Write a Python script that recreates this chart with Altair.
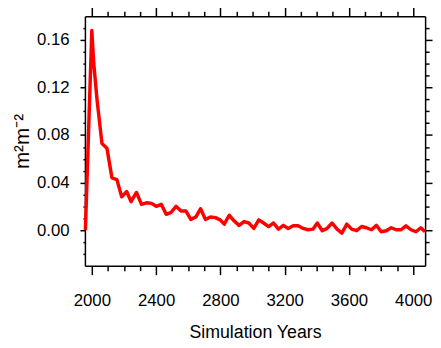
import altair as alt
import pandas as pd

# ---- data ----
years = [1960, 2000, 2012, 2033, 2063, 2094, 2125, 2156, 2186, 2217,
         2244, 2278, 2309, 2340, 2371, 2401, 2432, 2463, 2494, 2524,
         2555, 2586, 2616, 2647, 2677, 2707, 2738, 2769, 2799, 2824,
         2855, 2885, 2916, 2947, 2977, 3008, 3039, 3069, 3100, 3131,
         3161, 3192, 3222, 3253, 3284, 3315, 3345, 3376, 3403, 3434,
         3464, 3495, 3526, 3556, 3587, 3617, 3648, 3679, 3709, 3740,
         3771, 3801, 3832, 3863, 3894, 3924, 3955, 3986, 4017, 4047,
         4074]
values = [0.0, 0.168, 0.140, 0.109, 0.073, 0.069, 0.044, 0.0425, 0.028, 0.0325,
          0.024, 0.0317, 0.0217, 0.023, 0.0225, 0.020, 0.0217, 0.0133, 0.015, 0.020,
          0.016, 0.016, 0.009, 0.011, 0.018, 0.009, 0.011, 0.0105, 0.0086, 0.005,
          0.0125, 0.0078, 0.004, 0.0072, 0.006, 0.0014, 0.0086, 0.006, 0.003, 0.006,
          0.0008, 0.004, 0.0014, 0.0036, 0.0036, 0.0014, 0.0003, 0.0008, 0.006, -0.0005,
          0.0014, 0.006, 0.0008, -0.0025, 0.005, 0.0008, -0.0005, 0.003, 0.002, 0.0003,
          0.004, -0.0014, -0.0005, 0.002, 0.0003, 0.0003, 0.0036, 0.0003, -0.0014, 0.002,
          -0.0014]

x_ticks = [2000, 2100, 2200, 2300, 2400, 2500, 2600, 2700, 2800, 2900, 3000,
           3100, 3200, 3300, 3400, 3500, 3600, 3700, 3800, 3900, 4000]
y_ticks = [-0.02, -0.01, 0.0, 0.01, 0.02, 0.03, 0.04, 0.05, 0.06, 0.07, 0.08,
           0.09, 0.10, 0.11, 0.12, 0.13, 0.14, 0.15, 0.16, 0.17]
x_domain = [1957, 4074]
y_domain = [-0.03, 0.18]

x_title = "Simulation Years"
y_title = "m²m⁻²"

FONT = "Liberation Sans, Arial, sans-serif"

df = pd.DataFrame({"year": years, "value": values})

xs = alt.Scale(domain=x_domain, nice=False, zero=False)
ys = alt.Scale(domain=y_domain, nice=False, zero=False)

x_major = "datum.value % 400 == 0"
y_major = "abs(round(datum.value * 100) % 4) == 0"

common = dict(grid=False, domainColor="black", domainWidth=1.5,
              tickColor="black", tickWidth=1.5, labelOverlap=False,
              labelFlush=False, labelBound=False, labelColor="black",
              labelFont=FONT, labelFontSize=17)

x_bottom = alt.Axis(
    orient="bottom", values=x_ticks,
    tickSize={"condition": {"test": x_major, "value": 9}, "value": 5},
    labelExpr=f"{x_major} ? format(datum.value, 'd') : ''",
    labelBaseline="alphabetic", labelPadding=31,
    title=x_title, titleFont=FONT, titleFontSize=18, titleFontWeight="normal",
    titleColor="black", titleBaseline="alphabetic", titleY=73,
    **common)
y_left = alt.Axis(
    orient="left", values=y_ticks,
    tickSize={"condition": {"test": y_major, "value": 5}, "value": 2},
    labelExpr=f"{y_major} ? format(datum.value, '.2f') : ''",
    labelPadding=11,
    title=y_title, titleFont=FONT, titleFontSize=21, titleFontWeight="normal",
    titleColor="black", titleBaseline="alphabetic", titleX=-57,
    **common)
x_top = alt.Axis(
    orient="top", values=x_ticks, labels=False, title=None,
    tickSize={"condition": {"test": x_major, "value": 10}, "value": 5},
    **common)
y_right = alt.Axis(
    orient="right", values=y_ticks, labels=False, title=None,
    tickSize={"condition": {"test": y_major, "value": 7}, "value": 4},
    **common)

line = alt.Chart(df).mark_line(color="#ff0000", strokeWidth=3.5,
                               strokeJoin="round").encode(
    x=alt.X("year:Q", scale=xs, axis=x_bottom),
    y=alt.Y("value:Q", scale=ys, axis=y_left),
)
ghost = alt.Chart(df).mark_line(strokeOpacity=0).encode(
    x=alt.X("year:Q", scale=xs, axis=x_top),
    y=alt.Y("value:Q", scale=ys, axis=y_right),
)

chart = alt.layer(line, ghost).resolve_axis(
    x="independent", y="independent"
).properties(
    width=345, height=253,
    autosize=alt.AutoSizeParams(type="none"),
    padding={"left": 78, "top": 6, "right": 8, "bottom": 78},
    background="white",
).configure_view(stroke=None)

chart.save("out.html", embed_options={"renderer": "svg", "actions": False})
